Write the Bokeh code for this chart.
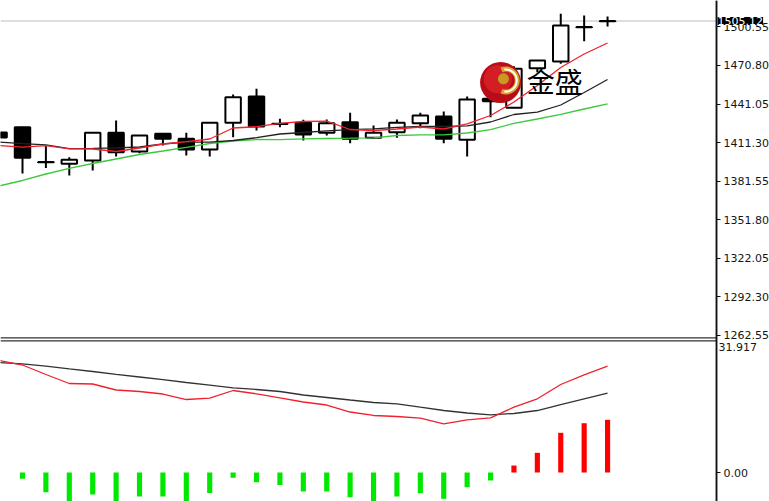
from bokeh.plotting import figure
from bokeh.models import Range1d, FixedTicker, Label, LinearAxis
from bokeh.embed import file_html
from bokeh.resources import INLINE
from bokeh.core.properties import value

# ---------------- data ----------------
bar_idx = list(range(27))
opens = [1419.12, 1423.21, 1396.30, 1394.98, 1397.52, 1418.89, 1404.46, 1418.12, 1414.26,
         1406.01, 1426.60, 1446.89, 1425.90, 1426.60, 1418.89, 1427.06, 1415.03, 1419.35,
         1426.29, 1431.46, 1413.49, 1445.11, 1438.17, 1468.71, 1473.88, 1500.40, 1504.90]
closes = [1415.26, 1399.60, 1396.10, 1398.06, 1418.89, 1403.92, 1416.80, 1414.26, 1406.01,
          1426.60, 1446.35, 1423.75, 1425.76, 1417.58, 1426.29, 1414.26, 1418.89, 1426.60,
          1432.23, 1414.26, 1444.57, 1443.26, 1468.25, 1474.65, 1501.65, 1500.28, 1505.12]
highs = [1419.90, 1423.60, 1408.71, 1400.07, 1419.30, 1428.37, 1417.00, 1418.40, 1418.89,
         1426.90, 1448.43, 1452.82, 1429.69, 1428.91, 1429.15, 1434.31, 1424.52, 1429.15,
         1434.31, 1435.32, 1446.89, 1445.50, 1470.26, 1475.00, 1510.67, 1509.36, 1508.59]
lows = [1414.50, 1387.50, 1391.74, 1385.95, 1389.81, 1400.61, 1403.15, 1409.09, 1401.38,
        1400.61, 1415.49, 1420.66, 1423.21, 1412.95, 1416.80, 1410.87, 1414.26, 1415.03,
        1422.44, 1410.87, 1400.61, 1430.92, 1437.80, 1465.63, 1472.11, 1489.54, 1500.88]

ma_red = [1409.09, 1407.78, 1408.94, 1406.55, 1406.40, 1404.46, 1407.16, 1410.25, 1412.02,
          1414.10, 1422.59, 1423.59, 1426.21, 1427.60, 1427.83, 1421.43, 1420.66, 1421.82,
          1423.36, 1421.82, 1425.83, 1432.23, 1442.64, 1455.37, 1469.25, 1479.67, 1488.15]
ma_black = [1411.79, 1410.48, 1409.63, 1406.62, 1406.93, 1407.32, 1407.93, 1410.25, 1411.64,
            1411.64, 1412.95, 1415.11, 1417.96, 1419.12, 1420.43, 1421.28, 1421.90, 1423.13,
            1423.75, 1423.75, 1424.29, 1427.22, 1433.00, 1434.78, 1440.33, 1449.97, 1460.00]
ma_green = [1377.85, 1382.10, 1387.11, 1391.51, 1395.21, 1398.68, 1402.15, 1404.85, 1407.70,
            1410.63, 1412.56, 1413.72, 1413.56, 1414.18, 1414.49, 1414.72, 1415.03, 1416.80,
            1417.27, 1417.35, 1418.73, 1421.28, 1426.21, 1429.53, 1433.16, 1437.24, 1441.25]

dif = [27.08, 25.99, 23.70, 21.52, 21.40, 19.95, 19.59, 18.98, 17.65, 17.97, 19.83, 19.03,
       18.06, 17.05, 16.32, 14.63, 13.79, 13.54, 13.13, 11.78, 12.74, 13.23, 15.79, 17.82,
       21.28, 23.62, 25.70]
dea = [26.60, 26.28, 25.70, 25.05, 24.42, 23.74, 23.09, 22.44, 21.76, 21.13, 20.48, 20.07,
       19.59, 18.74, 18.14, 17.53, 16.93, 16.61, 15.79, 14.99, 14.39, 13.95, 14.27, 14.99,
       16.44, 17.82, 19.17]
hist_idx = list(range(1, 27))
hist = [-1.52, -4.76, -7.20, -5.32, -7.00, -5.80, -5.80, -7.20, -4.96, -1.28, -2.35, -3.02,
        -4.59, -4.59, -5.97, -7.20, -5.80, -5.01, -6.36, -3.55, -1.93, 1.69, 4.76, 9.60,
        11.92, 12.74]

price_ticks = [1262.55, 1292.30, 1322.05, 1351.80, 1381.55, 1411.30, 1441.05, 1470.80, 1500.55]
price_tick_labels = ["1262.55", "1292.30", "1322.05", "1351.80", "1381.55", "1411.30",
                     "1441.05", "1470.80", "1500.55"]
last_price = 1505.12
last_price_label = "1505.12"
price_panel_bottom = 1260.77
macd_max = 31.917
macd_max_label = "31.917"
macd_ticks = [0.0]
macd_tick_labels = ["0.00"]

logo_x, logo_y = 21.43, 1457.7
logo_text = "金盛"
logo_text_x, logo_text_y = 22.55, 1459.0

# ---------------- layout constants ----------------
FONT = "DejaVu Sans"
X0, X1 = 0.06, 32.92          # visible bar-index span of the window
AXIS_X = 30.66                # where the price scale is drawn

p = figure(width=769, height=501, x_range=Range1d(X0, X1),
           y_range=Range1d(1134.51, 1520.93), y_axis_location="right",
           x_axis_location=None, toolbar_location=None, output_backend="svg",
           min_border_left=0, min_border_right=0, min_border_top=0, min_border_bottom=0,
           outline_line_color=None, background_fill_color="white")
p.extra_y_ranges = {"macd": Range1d(-7.01, 114.13)}
p.grid.visible = False


def style_axis(ax, ticks, labels):
    ax.fixed_location = AXIS_X
    ax.ticker = FixedTicker(ticks=ticks)
    ax.major_label_overrides = dict(zip(ticks, labels))
    ax.minor_tick_line_color = None
    ax.major_tick_in = 0
    ax.major_tick_out = 4
    ax.major_tick_line_color = "#111111"
    ax.axis_line_color = "#111111"
    ax.axis_line_width = 1.5
    ax.major_label_standoff = 3
    ax.major_label_text_font = FONT
    ax.major_label_text_font_size = "11px"
    ax.major_label_text_color = "#151515"


style_axis(p.yaxis[0], price_ticks, price_tick_labels)
macd_axis = LinearAxis(y_range_name="macd")
p.add_layout(macd_axis, "right")
style_axis(macd_axis, macd_ticks, macd_tick_labels)

# ---------------- price panel ----------------
p.segment(x0=[X0], y0=[last_price], x1=[AXIS_X], y1=[last_price], line_color="#bdbdbd", line_width=1)
p.segment(x0=[X0], y0=[price_panel_bottom], x1=[AXIS_X], y1=[price_panel_bottom],
          line_color="#333333", line_width=1.3)

tops = [max(o, c) for o, c in zip(opens, closes)]
bottoms = [min(o, c) for o, c in zip(opens, closes)]
fills = ["white" if c >= o else "black" for o, c in zip(opens, closes)]

p.segment(x0=bar_idx, y0=highs, x1=bar_idx, y1=lows, line_color="black", line_width=2)
p.vbar(x=bar_idx, top=tops, bottom=bottoms, width=0.66, fill_color=fills,
       line_color="black", line_width=2)

p.line(bar_idx, ma_green, line_color="#3cc83c", line_width=1.3)
p.line(bar_idx, ma_black, line_color="#222222", line_width=1.3)
p.line(bar_idx, ma_red, line_color="#f0202e", line_width=1.3)

# watermark logo
p.scatter(x=[logo_x], y=[logo_y], size=41, fill_color="#b80d16", line_color=None)
p.scatter(x=[logo_x - 0.12], y=[logo_y + 2.5], size=28, fill_color="#e0262e",
          line_color=None, fill_alpha=0.7)
p.annular_wedge(x=[logo_x + 0.22], y=[logo_y + 1.5], inner_radius=9, outer_radius=14,
                inner_radius_units="screen", outer_radius_units="screen",
                start_angle=-1.95, end_angle=1.95, fill_color="#d8a630", line_color=None)
p.annular_wedge(x=[logo_x + 0.22], y=[logo_y + 1.5], inner_radius=10, outer_radius=12,
                inner_radius_units="screen", outer_radius_units="screen",
                start_angle=-1.7, end_angle=1.7, fill_color="white", line_color=None)
p.scatter(x=[logo_x + 0.12], y=[logo_y + 2.8], size=11, fill_color="#c89a22", line_color=None)
p.text(x=[logo_text_x], y=[logo_text_y], text=[logo_text], text_font=value("Noto Sans CJK SC"),
       text_font_size="28px", text_baseline="middle", text_align="left", text_color="black")

p.add_layout(Label(x=AXIS_X, y=last_price, x_offset=1, text=last_price_label,
                   text_baseline="middle", text_align="left", text_color="white",
                   text_font=FONT, text_font_size="11px", background_fill_color="black"))

# ---------------- MACD panel ----------------
p.segment(x0=[X0], y0=[macd_max - 0.1], x1=[AXIS_X], y1=[macd_max - 0.1],
          line_color="#333333", line_width=1.3, y_range_name="macd")

hist_colors = ["#ff0000" if v > 0 else "#00e800" for v in hist]
p.vbar(x=hist_idx, top=hist, bottom=0, width=0.22, fill_color=hist_colors, line_color=None,
       y_range_name="macd")
p.line(bar_idx, dea, line_color="#333333", line_width=1.3, y_range_name="macd")
p.line(bar_idx, dif, line_color="#f0202e", line_width=1.3, y_range_name="macd")

p.add_layout(Label(x=AXIS_X, y=macd_max, x_offset=2, y_offset=-2, text=macd_max_label,
                   text_baseline="top", text_align="left", text_color="#151515",
                   text_font=FONT, text_font_size="11px", y_range_name="macd"))

open("out.html", "w").write(file_html(p, INLINE))
